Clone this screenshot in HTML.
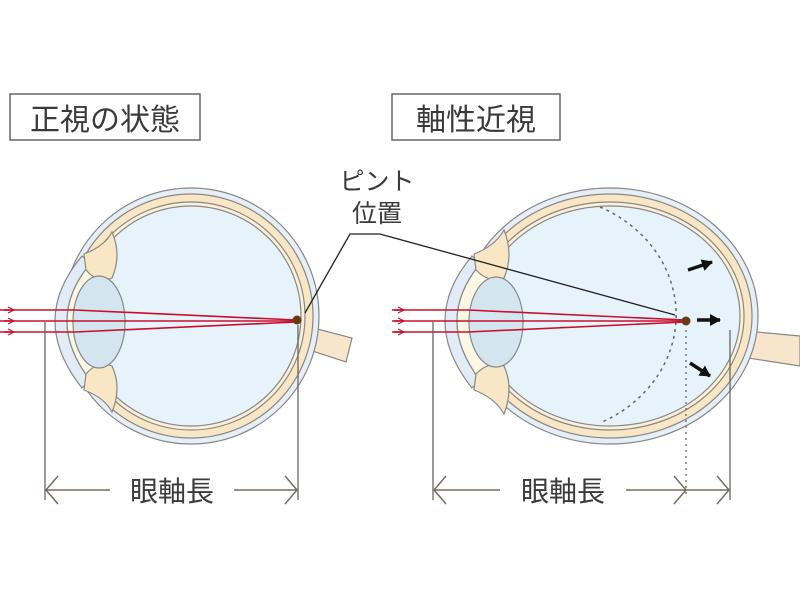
<!DOCTYPE html>
<html><head><meta charset="utf-8"><style>
html,body{margin:0;padding:0;background:#fff;width:800px;height:600px;overflow:hidden}
text{font-family:"Liberation Sans","Noto Sans CJK JP",sans-serif;fill:#3a3a3a}
</style></head><body>
<svg width="800" height="600" viewBox="0 0 800 600" xmlns="http://www.w3.org/2000/svg">
<defs>
<marker id="ra" markerWidth="8" markerHeight="8" refX="7" refY="4" orient="auto" markerUnits="userSpaceOnUse"><path d="M1,1 L7,4 L1,7" fill="none" stroke="#c8102e" stroke-width="1.2"/></marker>
<marker id="ba" markerWidth="12" markerHeight="12" refX="10" refY="6" orient="auto" markerUnits="userSpaceOnUse"><path d="M0,0 L11,6 L0,12 Z" fill="#111"/></marker>
</defs>
<rect x="10" y="94" width="190" height="46" fill="#fff" stroke="#666" stroke-width="1.5"/>
<text x="105" y="130" font-size="30" text-anchor="middle">正視の状態</text>
<rect x="392" y="94" width="168" height="46" fill="#fff" stroke="#666" stroke-width="1.5"/>
<text x="476" y="130" font-size="30" text-anchor="middle">軸性近視</text>
<text x="377" y="190" font-size="25" text-anchor="middle">ピント</text>
<text x="377" y="222" font-size="25" text-anchor="middle">位置</text>

<!-- LEFT EYE -->
<g stroke="#888" stroke-width="1.2">
<path d="M302,325 L352,338 L346,362 L300,347 Z" fill="#f8e6cc"/>
<circle cx="191" cy="316" r="128" fill="#e6eef6"/>
<circle cx="191" cy="316" r="122" fill="#f8e6c4"/>
<circle cx="191" cy="316" r="114" fill="#fcf0d8"/>
<circle cx="191" cy="316" r="110" fill="#e6f3fb"/>
<path d="M82,256 Q28,320 82,388 L90,380 Q44,320 90,264 Z" fill="#e2ecf6"/>
<path d="M90,264 Q44,320 90,380 L102,372 Q90,320 102,272 Z" fill="#fdf7e4"/>
<path d="M84,254 Q105,246 112,232 Q122,255 112,278 Q98,284 86,270 Z" fill="#f8e6c4"/>
<path d="M84,390 Q105,398 112,412 Q122,388 112,366 Q98,360 86,374 Z" fill="#f8e6c4"/>
<ellipse cx="99" cy="322" rx="26" ry="46" fill="#d3e6f0"/>
</g>
<g stroke="#c8102e" stroke-width="1.6" fill="none">
<path d="M0,310 L75,310 L296,320"/>
<path d="M0,321 L296,321"/>
<path d="M0,332 L75,332 L296,322"/>
<path d="M4,310 L14,310" marker-end="url(#ra)"/>
<path d="M4,321 L14,321" marker-end="url(#ra)"/>
<path d="M4,332 L14,332" marker-end="url(#ra)"/>
</g>
<circle cx="297" cy="320" r="4.5" fill="#6b3a12"/>

<!-- RIGHT EYE -->
<g stroke="#888" stroke-width="1.2">
<path d="M735,330 L800,336 L800,366 L735,356 Z" fill="#f8e6cc"/>
<ellipse cx="610" cy="316" rx="148" ry="128" fill="#e6eef6"/>
<ellipse cx="610" cy="316" rx="142" ry="122" fill="#f8e6c4"/>
<ellipse cx="610" cy="316" rx="134" ry="114" fill="#fcf0d8"/>
<ellipse cx="610" cy="316" rx="130" ry="110" fill="#e6f3fb"/>
<path d="M472,256 Q418,320 472,388 L480,380 Q434,320 480,264 Z" fill="#e2ecf6"/>
<path d="M480,264 Q434,320 480,380 L492,372 Q480,320 492,272 Z" fill="#fdf7e4"/>
<path d="M474,254 Q495,246 504,230 Q514,255 504,278 Q490,284 476,270 Z" fill="#f8e6c4"/>
<path d="M474,390 Q495,398 504,414 Q514,388 504,366 Q490,360 476,374 Z" fill="#f8e6c4"/>
<ellipse cx="496" cy="322" rx="27" ry="45" fill="#d3e6f0"/>
</g>
<path d="M600,207 A135,120 0 0 1 600,423" fill="none" stroke="#666" stroke-width="1.5" stroke-dasharray="3,4"/>
<g stroke="#c8102e" stroke-width="1.6" fill="none">
<path d="M392,310 L468,310 L685,320"/>
<path d="M392,321 L685,321"/>
<path d="M392,332 L468,332 L685,322"/>
<path d="M394,310 L404,310" marker-end="url(#ra)"/>
<path d="M394,321 L404,321" marker-end="url(#ra)"/>
<path d="M394,332 L404,332" marker-end="url(#ra)"/>
</g>
<circle cx="686" cy="321" r="4.5" fill="#6b3a12"/>
<g stroke="#111" stroke-width="3.5">
<path d="M688,270 L712,262" marker-end="url(#ba)"/>
<path d="M697,320 L720,320" marker-end="url(#ba)"/>
<path d="M690,363 L710,376" marker-end="url(#ba)"/>
</g>

<path d="M305,313 L350,234 L380,234 L675,315" fill="none" stroke="#222" stroke-width="1.3"/>

<g stroke="#666" stroke-width="1.3" fill="none">
<path d="M45,322 L45,500 M298,325 L298,500 M433,322 L433,500 M730,330 L730,500"/>
<path d="M686,330 L686,495" stroke-dasharray="2,4"/>
</g>
<g stroke="#7a6a5a" stroke-width="1.5" fill="none">
<path d="M46,490 L110,490 M58,476 L46,490 L58,504"/>
<path d="M234,490 L297,490 M285,476 L297,490 L285,504"/>
<path d="M434,490 L500,490 M446,476 L434,490 L446,504"/>
<path d="M626,490 L729,490 M674,476 L686,490 L674,504 M717,476 L729,490 L717,504"/>
</g>
<text x="172" y="501" font-size="28" text-anchor="middle">眼軸長</text>
<text x="563" y="501" font-size="28" text-anchor="middle">眼軸長</text>
</svg>
</body></html>
